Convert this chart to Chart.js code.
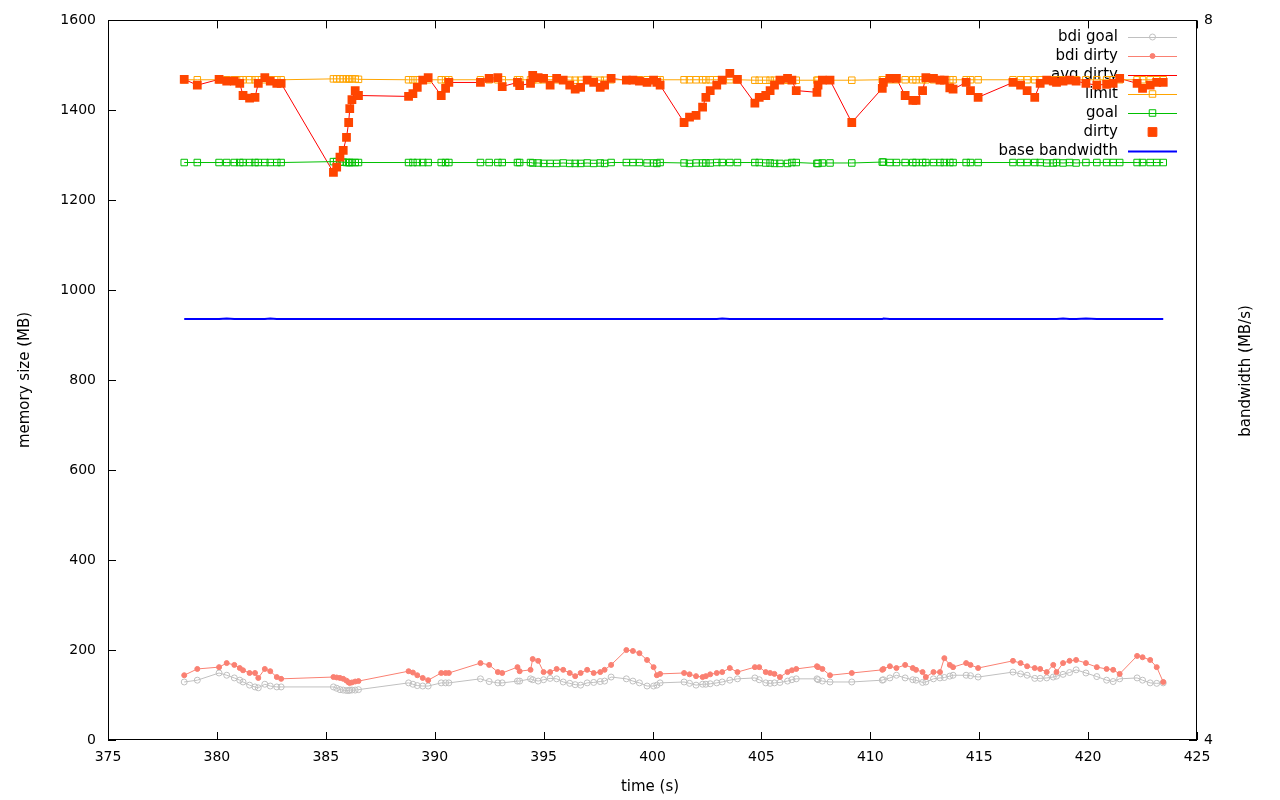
<!DOCTYPE html>
<html>
<head>
<meta charset="utf-8">
<script src="https://cdn.jsdelivr.net/npm/chart.js@4.4.0/dist/chart.umd.min.js"></script>
<style>
  html, body { margin: 0; padding: 0; background: #fff; }
  #chart { display: block; }
</style>
</head>
<body>
<canvas id="chart" width="1280" height="800"></canvas>
<script>
// sample times (s)
const time = [
  378.5, 379.1, 380.1, 380.45, 380.8, 381.05, 381.2, 381.5, 381.75, 381.9,
  382.2, 382.45, 382.75, 382.95, 385.35, 385.5, 385.65, 385.8, 385.95, 386.05,
  386.1, 386.2, 386.35, 386.5, 388.8, 389.0, 389.2, 389.45, 389.7, 390.3,
  390.5, 390.65, 392.1, 392.5, 392.9, 393.1, 393.8, 393.9, 394.4, 394.5,
  394.75, 395.0, 395.3, 395.6, 395.9, 396.2, 396.45, 396.7, 397.0, 397.3,
  397.6, 397.8, 398.1, 398.8, 399.1, 399.4, 399.75, 400.05, 400.2, 400.35,
  401.45, 401.7, 402.0, 402.3, 402.45, 402.65, 402.95, 403.2, 403.55, 403.9,
  404.7, 404.9, 405.2, 405.4, 405.6, 405.85, 406.2, 406.4, 406.6, 407.55,
  407.6, 407.8, 408.15, 409.15, 410.55, 410.6, 410.9, 411.2, 411.6, 411.95,
  412.1, 412.4, 412.55, 412.9, 413.2, 413.4, 413.65, 413.8, 414.4, 414.6,
  414.95, 416.55, 416.9, 417.2, 417.55, 417.8, 418.1, 418.4, 418.55, 418.85,
  419.15, 419.45, 419.9, 420.4, 420.85, 421.15, 421.45, 422.25, 422.5, 422.85,
  423.15, 423.45
];

// memory size (MB)
const bdiGoal = [
  129, 133, 149, 144, 138, 133, 129, 122, 118, 116,
  124, 120, 118, 118, 118, 115, 112, 111, 110, 110,
  111, 111, 111, 112, 127, 124, 121, 120, 120, 127,
  127, 127, 136, 130, 127, 127, 131, 131, 136, 134,
  131, 134, 137, 136, 129, 126, 123, 122, 127, 128,
  130, 131, 140, 136, 131, 127, 120, 120, 122, 127,
  129, 126, 122, 124, 124, 125, 127, 129, 133, 136,
  138, 134, 127, 126, 127, 128, 131, 134, 136, 136,
  134, 131, 129, 129, 133, 134, 138, 144, 138, 134,
  133, 128, 129, 136, 138, 139, 142, 144, 144, 143,
  140, 151, 147, 144, 137, 137, 138, 140, 142, 146,
  150, 156, 149, 141, 133, 130, 136, 138, 133, 127,
  126, 127
];

const bdiDirty = [
  144, 158, 162, 171, 167, 160, 155, 149, 149, 138,
  158, 153, 140, 136, 140, 139, 138, 136, 132, 128,
  127, 128, 130, 131, 153, 150, 144, 138, 133, 149,
  149, 149, 171, 167, 151, 149, 162, 153, 156, 180,
  176, 151, 151, 158, 156, 149, 142, 149, 156, 149,
  151, 156, 167, 200, 198, 193, 178, 162, 144, 147,
  149, 146, 142, 140, 142, 146, 149, 151, 160, 151,
  162, 162, 151, 149, 147, 140, 151, 155, 158, 164,
  162, 158, 144, 149, 156, 158, 164, 160, 167, 160,
  156, 151, 140, 151, 151, 182, 167, 162, 171, 167,
  160, 176, 171, 164, 160, 158, 151, 167, 151, 171,
  176, 178, 171, 162, 158, 156, 147, 187, 184, 178,
  162, 129
];

const limit = [
  1468, 1468, 1468, 1468, 1468, 1468, 1468, 1468, 1468, 1468,
  1468, 1468, 1468, 1468, 1470, 1470, 1470, 1470, 1470, 1470,
  1470, 1470, 1470, 1469, 1468, 1468, 1468, 1468, 1468, 1468,
  1468, 1468, 1468, 1468, 1468, 1468, 1468, 1468, 1468, 1468,
  1468, 1468, 1468, 1468, 1468, 1467, 1467, 1467, 1467, 1467,
  1467, 1467, 1468, 1468, 1468, 1468, 1468, 1468, 1468, 1468,
  1468, 1468, 1468, 1468, 1468, 1468, 1468, 1468, 1468, 1468,
  1467, 1467, 1467, 1467, 1467, 1467, 1467, 1467, 1467, 1467,
  1467, 1467, 1467, 1467, 1468, 1468, 1468, 1468, 1468, 1468,
  1468, 1468, 1468, 1468, 1468, 1468, 1468, 1468, 1468, 1468,
  1468, 1468, 1468, 1468, 1468, 1468, 1468, 1468, 1468, 1468,
  1468, 1468, 1468, 1468, 1468, 1468, 1468, 1468, 1468, 1468,
  1468, 1468
];

const goal = [
  1284, 1284, 1284, 1284, 1284, 1284, 1284, 1284, 1284, 1284,
  1284, 1284, 1284, 1284, 1286, 1286, 1285, 1285, 1284, 1284,
  1284, 1284, 1284, 1284, 1284, 1284, 1284, 1284, 1284, 1284,
  1284, 1284, 1284, 1284, 1284, 1284, 1284, 1284, 1284, 1283,
  1283, 1282, 1282, 1282, 1283, 1282, 1282, 1282, 1283, 1282,
  1283, 1282, 1284, 1284, 1284, 1284, 1283, 1283, 1282, 1284,
  1283, 1282, 1283, 1283, 1283, 1283, 1284, 1284, 1284, 1284,
  1284, 1284, 1283, 1283, 1282, 1282, 1282, 1284, 1284, 1282,
  1282, 1283, 1283, 1283, 1285, 1285, 1284, 1284, 1284, 1284,
  1284, 1284, 1284, 1284, 1284, 1284, 1284, 1284, 1284, 1284,
  1284, 1284, 1284, 1284, 1284, 1284, 1283, 1283, 1284, 1283,
  1284, 1283, 1284, 1284, 1284, 1284, 1284, 1284, 1284, 1284,
  1284, 1284
];

const dirty = [
  1469, 1456, 1469, 1465, 1465, 1460, 1433, 1427, 1429, 1460,
  1473, 1465, 1460, 1460, 1262, 1274, 1296, 1311, 1340, 1373,
  1404, 1424, 1444, 1433, 1431, 1437, 1451, 1467, 1473, 1433,
  1449, 1462, 1462, 1471, 1473, 1453, 1462, 1455, 1460, 1478,
  1473, 1471, 1456, 1471, 1467, 1456, 1447, 1451, 1467, 1462,
  1451, 1456, 1471, 1467, 1467, 1465, 1462, 1467, 1462, 1456,
  1373, 1385, 1389, 1407, 1429, 1444, 1456, 1467, 1482, 1469,
  1416, 1429, 1433, 1444, 1456, 1467, 1471, 1467, 1444, 1440,
  1456, 1467, 1467, 1373, 1449, 1462, 1471, 1471, 1433, 1422,
  1422, 1444, 1473, 1471, 1467, 1467, 1450, 1447, 1462, 1444,
  1429, 1462, 1456, 1444, 1429, 1460, 1467, 1465, 1462, 1465,
  1467, 1465, 1460, 1456, 1458, 1460, 1471, 1460, 1449, 1456,
  1462, 1462
];

// bandwidth (MB/s), right axis
const baseBandwidth = [
  6.34, 6.34, 6.34, 6.343, 6.34, 6.34, 6.34, 6.34, 6.34, 6.34,
  6.34, 6.343, 6.34, 6.34, 6.34, 6.34, 6.34, 6.34, 6.34, 6.34,
  6.34, 6.34, 6.34, 6.34, 6.34, 6.34, 6.34, 6.34, 6.34, 6.34,
  6.34, 6.34, 6.34, 6.34, 6.34, 6.34, 6.34, 6.34, 6.34, 6.34,
  6.34, 6.34, 6.34, 6.34, 6.34, 6.34, 6.34, 6.34, 6.34, 6.34,
  6.34, 6.34, 6.34, 6.34, 6.34, 6.34, 6.34, 6.34, 6.34, 6.34,
  6.34, 6.34, 6.34, 6.34, 6.34, 6.34, 6.34, 6.343, 6.34, 6.34,
  6.34, 6.34, 6.34, 6.34, 6.34, 6.34, 6.34, 6.34, 6.34, 6.34,
  6.34, 6.34, 6.34, 6.34, 6.34, 6.343, 6.34, 6.34, 6.34, 6.34,
  6.34, 6.34, 6.34, 6.34, 6.34, 6.34, 6.34, 6.34, 6.34, 6.34,
  6.34, 6.34, 6.34, 6.34, 6.34, 6.34, 6.34, 6.34, 6.34, 6.343,
  6.34, 6.34, 6.343, 6.34, 6.34, 6.34, 6.34, 6.34, 6.34, 6.34,
  6.34, 6.34
];

const xTicks = { min: 375, max: 425, step: 5 };
const yTicks = { min: 0, max: 1600, step: 200 };
const y2Ticks = { min: 4, max: 8, step: 4 };

const FONT = '"DejaVu Sans", sans-serif';

const pts = (vals) => time.map((t, i) => ({ x: t, y: vals[i] }));

// legend order as in the picture, drawn gnuplot-style (text right, sample after it)
const legendOrder = ['bdi goal', 'bdi dirty', 'avg dirty', 'limit', 'goal', 'dirty', 'base bandwidth'];

const gnuplotFrame = {
  id: 'gnuplotFrame',
  beforeDatasetsDraw(chart) {
    const ctx = chart.ctx;
    ctx.save();
    ctx.font = '15px ' + FONT;
    ctx.textAlign = 'right';
    ctx.textBaseline = 'middle';
    legendOrder.forEach((name, i) => {
      const ds = chart.data.datasets.find(d => d.label === name);
      const y = 37 + i * 19;
      ctx.fillStyle = '#000';
      ctx.fillText(name, 1118, y);
      const x0 = 1128, x1 = 1177, xm = 1152.5;
      if (ds.showLine !== false) {
        ctx.strokeStyle = ds.borderColor;
        ctx.lineWidth = ds.borderWidth;
        ctx.beginPath();
        ctx.moveTo(x0, y + 0.5);
        ctx.lineTo(x1, y + 0.5);
        ctx.stroke();
      }
      const r = ds.pointRadius;
      if (r > 0) {
        ctx.lineWidth = 1;
        ctx.strokeStyle = ds.pointBorderColor;
        ctx.fillStyle = ds.pointBackgroundColor;
        ctx.beginPath();
        if (ds.pointStyle === 'rect') {
          const s = Math.SQRT1_2 * r;
          ctx.rect(xm - s, y - s, 2 * s, 2 * s);
        } else {
          ctx.arc(xm, y, r, 0, Math.PI * 2);
        }
        ctx.fill();
        ctx.stroke();
      }
    });
    ctx.restore();
  },
  afterDraw(chart) {
    const ctx = chart.ctx;
    const a = chart.chartArea;
    const sx = chart.scales.x, sy = chart.scales.y, sy2 = chart.scales.y2;
    ctx.save();
    ctx.strokeStyle = '#000';
    ctx.lineWidth = 1;
    ctx.strokeRect(Math.round(a.left) + 0.5, Math.round(a.top) + 0.5,
      Math.round(a.right - a.left) - 1, Math.round(a.bottom - a.top) - 1);
    ctx.beginPath();
    sx.ticks.forEach(t => {
      const x = Math.round(sx.getPixelForValue(t.value)) + 0.5;
      ctx.moveTo(x, a.bottom); ctx.lineTo(x, a.bottom - 8);
      ctx.moveTo(x, a.top); ctx.lineTo(x, a.top + 8);
    });
    sy.ticks.forEach(t => {
      const y = Math.round(sy.getPixelForValue(t.value)) + 0.5;
      ctx.moveTo(a.left, y); ctx.lineTo(a.left + 8, y);
    });
    sy2.ticks.forEach(t => {
      const y = Math.round(sy2.getPixelForValue(t.value)) + 0.5;
      ctx.moveTo(a.right, y); ctx.lineTo(a.right - 8, y);
    });
    ctx.stroke();

    // axis titles
    ctx.fillStyle = '#000';
    ctx.font = '15px ' + FONT;
    ctx.textAlign = 'center';
    ctx.textBaseline = 'middle';
    ctx.fillText('time (s)', 650, 787);
    ctx.save();
    ctx.translate(25, 380);
    ctx.rotate(-Math.PI / 2);
    ctx.fillText('memory size (MB)', 0, 0);
    ctx.restore();
    ctx.save();
    ctx.translate(1246, 371);
    ctx.rotate(-Math.PI / 2);
    ctx.fillText('bandwidth (MB/s)', 0, 0);
    ctx.restore();
    ctx.restore();
  }
};

const ctx = document.getElementById('chart');

new Chart(ctx, {
  type: 'scatter',
  data: {
    datasets: [
      {
        label: 'dirty',
        data: pts(dirty),
        showLine: false,
        pointStyle: 'rect',
        pointRadius: 6.2,
        pointBorderWidth: 0,
        pointBackgroundColor: '#ff4500',
        pointBorderColor: '#ff4500',
        borderColor: '#ff4500',
        borderWidth: 0,
        order: 0
      },
      {
        label: 'base bandwidth',
        data: pts(baseBandwidth),
        yAxisID: 'y2',
        showLine: true,
        borderColor: '#0000ff',
        borderWidth: 2,
        pointRadius: 0,
        order: 1
      },
      {
        label: 'goal',
        data: pts(goal),
        showLine: true,
        borderColor: '#00c000',
        borderWidth: 1,
        pointStyle: 'rect',
        pointRadius: 4.6,
        pointBorderWidth: 1,
        pointBorderColor: '#00c000',
        pointBackgroundColor: 'rgba(0,0,0,0)',
        order: 2
      },
      {
        label: 'limit',
        data: pts(limit),
        showLine: true,
        borderColor: '#ffa500',
        borderWidth: 1,
        pointStyle: 'rect',
        pointRadius: 4.6,
        pointBorderWidth: 1,
        pointBorderColor: '#ffa500',
        pointBackgroundColor: 'rgba(0,0,0,0)',
        order: 3
      },
      {
        label: 'avg dirty',
        data: pts(dirty),
        showLine: true,
        borderColor: '#ff0000',
        borderWidth: 1,
        pointRadius: 0,
        order: 4
      },
      {
        label: 'bdi dirty',
        data: pts(bdiDirty),
        showLine: true,
        borderColor: '#fa8072',
        borderWidth: 1,
        pointStyle: 'circle',
        pointRadius: 2.5,
        pointBorderWidth: 1,
        pointBorderColor: '#fa8072',
        pointBackgroundColor: '#fa8072',
        order: 5
      },
      {
        label: 'bdi goal',
        data: pts(bdiGoal),
        showLine: true,
        borderColor: '#c0c0c0',
        borderWidth: 1,
        pointStyle: 'circle',
        pointRadius: 3,
        pointBorderWidth: 1,
        pointBorderColor: '#c0c0c0',
        pointBackgroundColor: 'rgba(0,0,0,0)',
        order: 6
      }
    ]
  },
  options: {
    responsive: false,
    animation: false,
    layout: { padding: { top: 20, left: 0, right: 0, bottom: 0 } },
    plugins: {
      legend: { display: false },
      tooltip: { enabled: false }
    },
    scales: {
      x: {
        type: 'linear',
        min: xTicks.min,
        max: xTicks.max,
        grid: { display: false, drawTicks: false },
        border: { display: false },
        ticks: { stepSize: xTicks.step, color: '#000', font: { family: FONT, size: 14 }, padding: 9, maxRotation: 0, callback: v => String(v) },
        afterFit: s => { s.height = 60; }
      },
      y: {
        position: 'left',
        min: yTicks.min,
        max: yTicks.max,
        grid: { display: false, drawTicks: false },
        border: { display: false },
        ticks: { stepSize: yTicks.step, color: '#000', font: { family: FONT, size: 14 }, padding: 12, callback: v => String(v) },
        afterFit: s => { s.width = 108; }
      },
      y2: {
        position: 'right',
        min: y2Ticks.min,
        max: y2Ticks.max,
        grid: { display: false, drawTicks: false },
        border: { display: false },
        ticks: { stepSize: y2Ticks.step, color: '#000', font: { family: FONT, size: 14 }, padding: 7, callback: v => String(v) },
        afterFit: s => { s.width = 83; }
      }
    }
  },
  plugins: [gnuplotFrame]
});
</script>
</body>
</html>
